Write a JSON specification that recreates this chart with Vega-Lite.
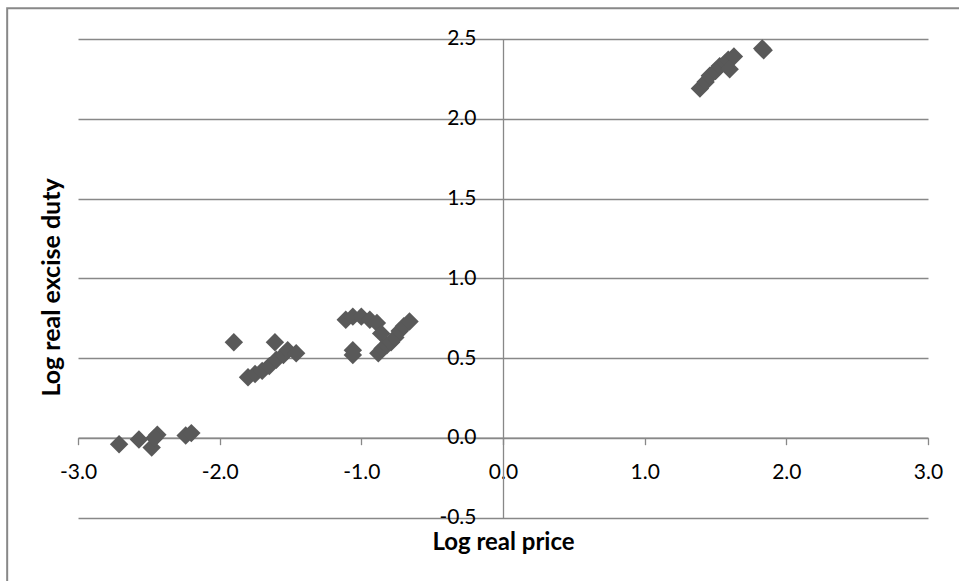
{
  "$schema": "https://vega.github.io/schema/vega-lite/v6.json",
  "width": 850,
  "height": 478.7,
  "autosize": "none",
  "padding": {"left": 78, "top": 39, "right": 31, "bottom": 63},
  "background": "white",
  "config": {"view": {"stroke": null}, "font": "Lato"},
  "layer": [
    {
      "data": {"values": [{}]},
      "mark": {"type": "rect", "filled": false, "stroke": "#888888", "strokeWidth": 2, "clip": false},
      "encoding": {
        "x": {"datum": -3.5, "type": "quantitative", "scale": {"domain": [-3, 3], "nice": false, "zero": false}},
        "x2": {"datum": 5},
        "y": {"datum": 2.693, "type": "quantitative", "scale": {"domain": [-0.5, 2.5], "nice": false, "zero": false}},
        "y2": {"datum": -2}
      }
    },
    {
      "data": {
        "values": [
          {"price": -2.71, "duty": -0.04},
          {"price": -2.57, "duty": -0.01},
          {"price": -2.48, "duty": -0.06},
          {"price": -2.44, "duty": 0.02},
          {"price": -2.46, "duty": 0.0},
          {"price": -2.24, "duty": 0.015},
          {"price": -2.2, "duty": 0.03},
          {"price": -1.9, "duty": 0.6},
          {"price": -1.8, "duty": 0.38},
          {"price": -1.75, "duty": 0.4},
          {"price": -1.7, "duty": 0.42},
          {"price": -1.65, "duty": 0.45},
          {"price": -1.6, "duty": 0.49},
          {"price": -1.55, "duty": 0.52},
          {"price": -1.52, "duty": 0.55},
          {"price": -1.61, "duty": 0.6},
          {"price": -1.46, "duty": 0.53},
          {"price": -1.11, "duty": 0.74},
          {"price": -1.06, "duty": 0.76},
          {"price": -1.0, "duty": 0.76},
          {"price": -0.94, "duty": 0.74},
          {"price": -0.89, "duty": 0.72},
          {"price": -1.06, "duty": 0.55},
          {"price": -1.06, "duty": 0.52},
          {"price": -0.88, "duty": 0.53},
          {"price": -0.86, "duty": 0.655},
          {"price": -0.85, "duty": 0.56},
          {"price": -0.82, "duty": 0.58},
          {"price": -0.79, "duty": 0.6},
          {"price": -0.76, "duty": 0.63},
          {"price": -0.73, "duty": 0.67},
          {"price": -0.7, "duty": 0.7},
          {"price": -0.66, "duty": 0.73},
          {"price": 1.39, "duty": 2.19},
          {"price": 1.43, "duty": 2.23},
          {"price": 1.46, "duty": 2.27},
          {"price": 1.5, "duty": 2.3},
          {"price": 1.53, "duty": 2.33},
          {"price": 1.57, "duty": 2.35},
          {"price": 1.59, "duty": 2.37},
          {"price": 1.63, "duty": 2.39},
          {"price": 1.6, "duty": 2.31},
          {"price": 1.83, "duty": 2.44},
          {"price": 1.84, "duty": 2.43}
        ]
      },
      "mark": {"type": "point", "shape": "diamond", "filled": true, "size": 340, "color": "#595959", "opacity": 1},
      "encoding": {
        "x": {
          "field": "price",
          "type": "quantitative",
          "scale": {"domain": [-3, 3], "nice": false, "zero": false},
          "axis": {
            "title": "Log real price",
            "offset": -80,
            "values": [-3, -2, -1, 0, 1, 2, 3],
            "labelExpr": "replace(format(datum.value, '.1f'), '\u2212', '-')",
            "grid": false,
            "domainColor": "#888888",
            "domainWidth": 1.3,
            "tickColor": "#888888",
            "tickWidth": 1.3,
            "tickSize": 7,
            "labelFontSize": 21,
            "labelColor": "#000000",
            "labelBaseline": "middle",
            "labelPadding": 27.5,
            "labelFlush": false,
            "labelOverlap": false,
            "titleFontSize": 24,
            "titleFontWeight": "bold",
            "titleColor": "#000000",
            "titleX": 425,
            "titleY": 105,
            "titleAlign": "center",
            "titleBaseline": "middle"
          }
        },
        "y": {
          "field": "duty",
          "type": "quantitative",
          "scale": {"domain": [-0.5, 2.5], "nice": false, "zero": false},
          "axis": {
            "title": "Log real excise duty",
            "offset": -425,
            "values": [-0.5, 0, 0.5, 1, 1.5, 2, 2.5],
            "labelExpr": "replace(format(datum.value, '.1f'), '\u2212', '-')",
            "grid": true,
            "gridColor": "#888888",
            "gridWidth": 1.3,
            "domainColor": "#888888",
            "domainWidth": 1.3,
            "ticks": false,
            "labelFontSize": 21,
            "labelColor": "#000000",
            "labelPadding": 27,
            "labelFlush": false,
            "labelOverlap": false,
            "titleFontSize": 25,
            "titleFontWeight": "bold",
            "titleColor": "#000000",
            "titleX": -452,
            "titleY": 248,
            "titleAngle": -90,
            "titleAlign": "center",
            "titleBaseline": "middle"
          }
        }
      }
    }
  ]
}
